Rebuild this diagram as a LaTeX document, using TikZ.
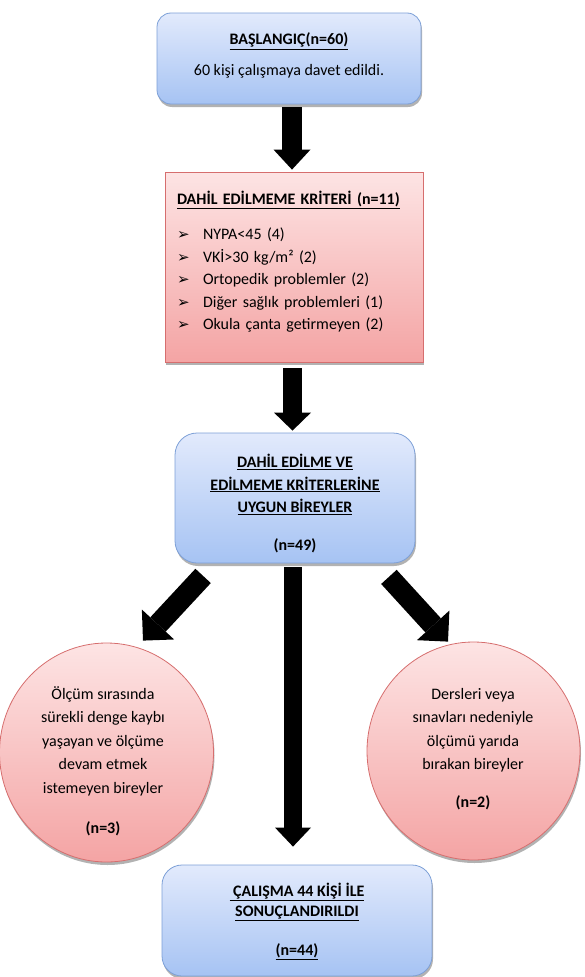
\documentclass[tikz,border=0pt]{standalone}
\usepackage{fontspec}
\setmainfont{Carlito}
\newfontfamily\djv{DejaVu Sans}
\usetikzlibrary{calc,shapes.geometric,shadows}
\definecolor{bluetop}{RGB}{226,234,252}
\definecolor{bluebot}{RGB}{166,195,243}
\definecolor{bluebd}{RGB}{125,160,215}
\definecolor{redtop}{RGB}{253,228,228}
\definecolor{redbot}{RGB}{244,164,164}
\definecolor{redbd}{RGB}{214,110,110}
\newcommand{\bul}{\makebox[26pt][l]{\djv\fontsize{15}{15}\selectfont ➢}}
\newcommand{\blockarr}[6]{%
  \coordinate (#1h) at ($(#3)!#5!(#2)$);
  \draw[line width=#4] (#2) -- (#1h);
  \fill (#3) -- ($(#1h)!#6!90:(#3)$) -- ($(#1h)!#6!-90:(#3)$) -- cycle;
}
\tikzset{
  shadowed/.style={drop shadow={shadow xshift=1pt,shadow yshift=-3pt,opacity=0.3,fill=black}},
  bluebox/.style={draw=bluebd, line width=0.8pt, top color=bluetop, bottom color=bluebot,
    rounded corners=#1, shadowed},
  bluebox/.default=15pt,
  redbox/.style={draw=redbd, line width=0.8pt, top color=redtop, bottom color=redbot, shadowed},
  redcirc/.style={ellipse, draw=redbd, line width=0.8pt, top color=redtop, bottom color=redbot,
    inner sep=0pt, shadowed},
  circtext/.style={align=center, inner sep=0pt, font=\fontsize{16}{23.5}\selectfont},
}
\begin{document}
\begin{tikzpicture}[x=1pt, y=-1pt, font=\fontsize{16}{22.5}\selectfont]
\useasboundingbox (0,0) rectangle (585,977);

% boxes
\node[bluebox=14pt, minimum width=264pt, minimum height=91pt, align=center] (b1) at (289,58.5)
  {\underline{\textbf{BAŞLANGIÇ(n=60)}}\\[8pt]60 kişi çalışmaya davet edildi.\rule[-9pt]{0pt}{9pt}};

\node[redbox, minimum width=258pt, minimum height=190pt, text width=234pt, align=left,
  inner xsep=12pt] (b2) at (294,267)
  {\underline{\textbf{DAHİL EDİLMEME KRİTERİ (n=11)}}\\[12.5pt]
   \bul NYPA<45 (4)\\
   \bul VKİ>30 kg/m² (2)\\
   \bul Ortopedik problemler (2)\\
   \bul Diğer sağlık problemleri (1)\\
   \bul Okula çanta getirmeyen (2)\rule[-13pt]{0pt}{13pt}};

\node[bluebox=22pt, minimum width=240pt, minimum height=130pt, align=center] (b3) at (295,498)
  {\rule{0pt}{25pt}\underline{\textbf{DAHİL EDİLME VE}}\\
   \underline{\textbf{EDİLMEME KRİTERLERİNE}}\\
   \underline{\textbf{UYGUN BİREYLER}}\\[15.5pt]
   \textbf{(n=49)}};

\node[bluebox=20pt, minimum width=270pt, minimum height=111pt, align=center,
  font=\fontsize{16}{20}\selectfont] (b4) at (297,920.5)
  {\rule{0pt}{15pt}\underline{\textbf{\ ÇALIŞMA 44 KİŞİ İLE}}\\
   \underline{\textbf{SONUÇLANDIRILDI}}\\[19pt]
   \underline{\textbf{(n=44)}}};

% circles
\node[redcirc, minimum width=214pt, minimum height=219pt] (c1) at (106.5,752.5) {};
\node[circtext] (c1t) at (103,761)
  {Ölçüm sırasında\\ sürekli denge kaybı\\ yaşayan ve ölçüme\\ devam etmek\\ istemeyen bireyler\\[16.5pt] \textbf{(n=3)}};

\node[redcirc, minimum width=213pt, minimum height=218pt] (c2) at (473.5,751) {};
\node[circtext] (c2t) at (473,749)
  {Dersleri veya\\ sınavları nedeniyle\\ ölçümü yarıda\\ bırakan bireyler\\[14pt] \textbf{(n=2)}};

% arrows
\coordinate (a1s) at ([xshift=3pt,yshift=-3pt]b1.south);
\coordinate (a1t) at ([xshift=-2pt,yshift=2pt]b2.north);
\blockarr{a1}{a1s}{a1t}{20pt}{20pt}{18.5pt}

\coordinate (a2s) at ([xshift=-1.5pt,yshift=-6pt]b2.south);
\coordinate (a2t) at ([xshift=-2.5pt,yshift=2pt]b3.north);
\blockarr{a2}{a2s}{a2t}{19pt}{18pt}{18.5pt}

\coordinate (a3s) at ([xshift=-2pt,yshift=-4pt]b3.south);
\coordinate (a3t) at ([xshift=-4pt,yshift=18pt]b4.north);
\blockarr{a3}{a3s}{a3t}{18pt}{19pt}{18pt}

\coordinate (a4s) at ([xshift=28.5pt,yshift=-12.5pt]b3.south west);
\coordinate (a4t) at ([xshift=36.5pt,yshift=2pt]c1.north);
\blockarr{a4}{a4s}{a4t}{21pt}{22pt}{22pt}

\coordinate (a5s) at ([xshift=-26.5pt,yshift=-13.5pt]b3.south east);
\coordinate (a5t) at ([xshift=-25.5pt]c2.north);
\blockarr{a5}{a5s}{a5t}{21pt}{22pt}{22pt}
\end{tikzpicture}
\end{document}
